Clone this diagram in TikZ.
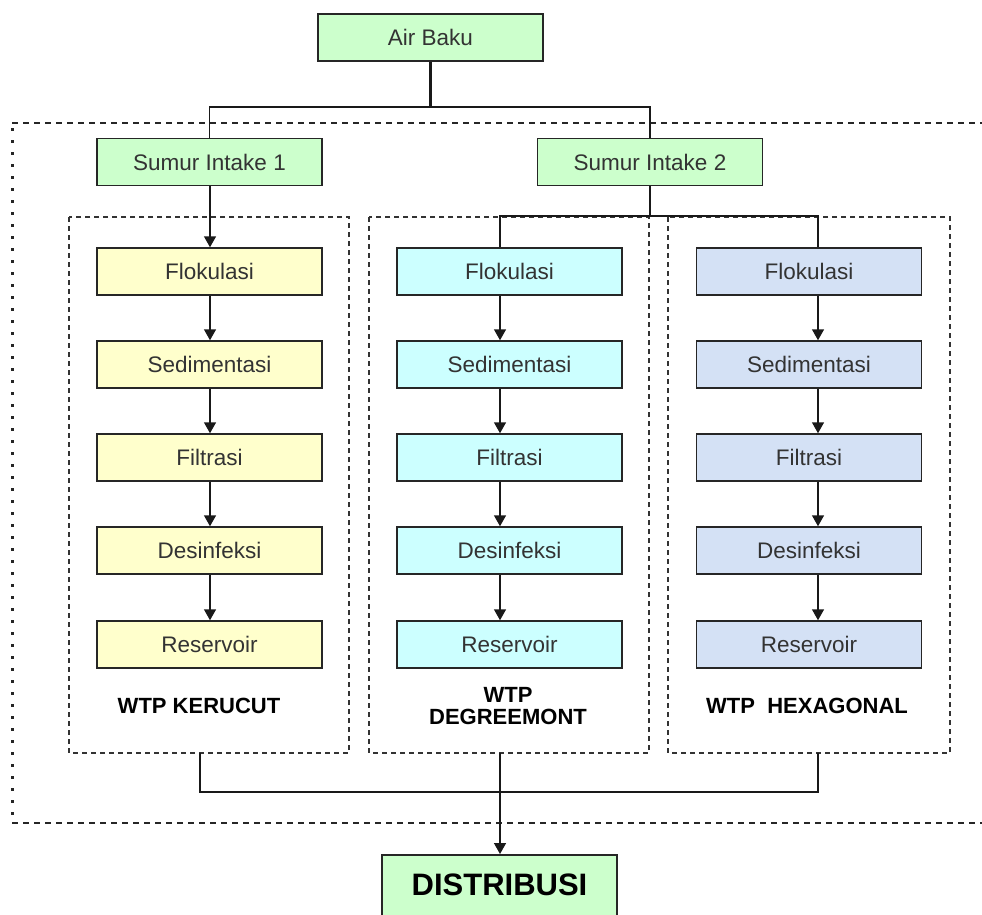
\documentclass[tikz,border=0pt]{standalone}
\usepackage{fontspec}
\setmainfont{Liberation Sans}
\usetikzlibrary{arrows.meta}
\definecolor{greenfill}{HTML}{CCFFCC}
\definecolor{yellowfill}{HTML}{FFFFCC}
\definecolor{cyanfill}{HTML}{CCFFFF}
\definecolor{bluefill}{HTML}{D4E1F5}
\definecolor{boxtext}{HTML}{333333}
\tikzset{
  procbox/.style={draw=black!85, line width=1.5pt, minimum width=225pt, minimum height=47pt,
    inner sep=0pt, text=boxtext, font=\fontsize{22.5}{26}\selectfont},
  wtpframe/.style={draw=black!80, line width=1.2pt, dash pattern=on 5pt off 4pt},
  outerdash/.style={draw=black!85, line width=1.5pt, dash pattern=on 6pt off 5pt},
  outerdot/.style={draw=black!85, line width=3pt, dash pattern=on 2.5pt off 9.5pt},
  link/.style={draw=black!90, line width=1.5pt},
  flow/.style={link, -{Triangle[width=12pt,length=11pt]}},
  wtplabel/.style={font=\bfseries\fontsize{22}{25}\selectfont, text=black, align=center},
}
\begin{document}
\begin{tikzpicture}[x=1pt,y=-1pt]
\useasboundingbox[fill=white] (0,0) rectangle (982,914);

% outer frame around the treatment plants
\draw[outerdash] (12,123) -- (995,123);
\draw[outerdash] (12,823) -- (995,823);
\draw[outerdot] (12,128) -- (12,823);

% frames of the three plants
\draw[wtpframe] (69,217) rectangle (349,753);
\draw[wtpframe] (369,217) rectangle (649,753);
\draw[wtpframe] (668,217) rectangle (950,753);

% source and intakes
\node[procbox, fill=greenfill] (air) at (430.5,37.5) {Air Baku};
\node[procbox, fill=greenfill] (si1) at (209.5,162) {Sumur Intake 1};
\node[procbox, fill=greenfill] (si2) at (650,162) {Sumur Intake 2};

% process steps, one column per plant
\foreach \col/\cx/\fc in {1/209.5/yellowfill, 2/509.5/cyanfill, 3/809/bluefill}{
  \node[procbox, fill=\fc] (flo\col) at (\cx,271.5) {Flokulasi};
  \node[procbox, fill=\fc] (sed\col) at (\cx,364.5) {Sedimentasi};
  \node[procbox, fill=\fc] (fil\col) at (\cx,457.5) {Filtrasi};
  \node[procbox, fill=\fc] (des\col) at (\cx,550.5) {Desinfeksi};
  \node[procbox, fill=\fc] (res\col) at (\cx,644.5) {Reservoir};
}

% plant labels
\node[wtplabel] (lab1) at (199,706) {WTP KERUCUT};
\node[wtplabel] (lab2) at (508,706) {WTP\\[-3pt]DEGREEMONT};
\node[wtplabel] (lab3) at (807,706) {WTP\ \ HEXAGONAL};

% distribution
\node[draw=black!85, line width=1.5pt, fill=greenfill, minimum width=235pt, minimum height=110pt,
      anchor=north] (dist) at (499.5,854) {};
\node[font=\bfseries\fontsize{31}{34}\selectfont, text=black] (distlab) at (499.5,885) {DISTRIBUSI};

% column axes used by the connectors
\coordinate (ax1) at (210,0);
\coordinate (ax2) at (500,0);
\coordinate (ax3) at (818,0);
\coordinate (split) at (430.5,107);
\coordinate (fork) at (650,216);
\coordinate (join) at (500,792);

% air baku to the intakes
\draw[link, line width=3pt] (air.south) -- (split);
\draw[link] (si1.north) |- (split) -| (si2.north);

% intake 1 to plant 1
\draw[flow] (si1.south -| ax1) -- (flo1.north -| ax1);

% intake 2 to plants 2 and 3
\draw[link] (si2.south) -- (fork);
\draw[link] (flo2.north -| ax2) |- (fork) -| (flo3.north -| ax3);

% arrows inside each column
\foreach \col in {1,2,3}{
  \draw[flow] (flo\col.south -| ax\col) -- (sed\col.north -| ax\col);
  \draw[flow] (sed\col.south -| ax\col) -- (fil\col.north -| ax\col);
  \draw[flow] (fil\col.south -| ax\col) -- (des\col.north -| ax\col);
  \draw[flow] (des\col.south -| ax\col) -- (res\col.north -| ax\col);
}

% plants to distribution
\draw[link] (200,753) |- (join) -| (818,753);
\draw[flow] (500,753) -- (dist.north -| ax2);
\end{tikzpicture}
\end{document}
